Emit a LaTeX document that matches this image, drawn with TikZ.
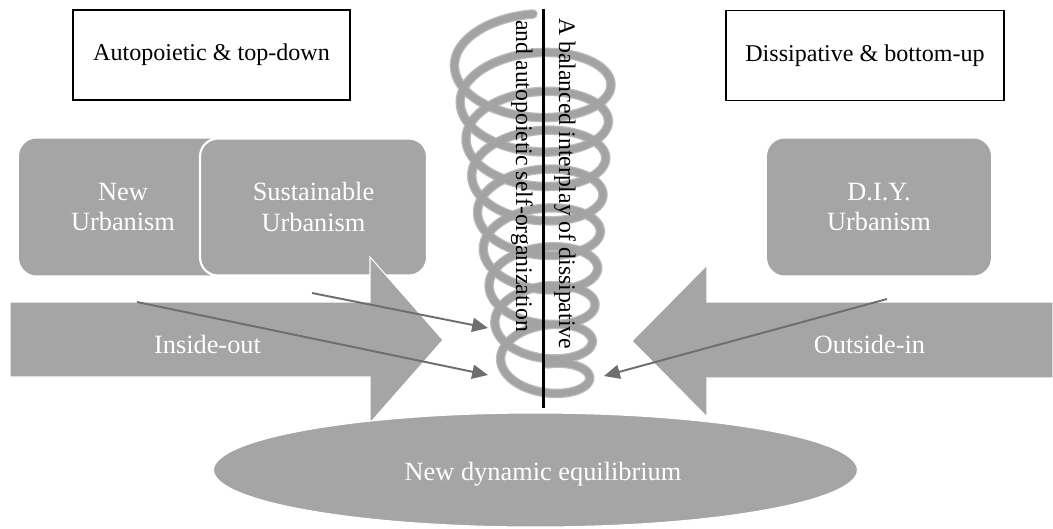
\documentclass[tikz,border=0pt]{standalone}
\usepackage{fontspec}
\setmainfont{Liberation Serif}
\usetikzlibrary{arrows.meta,shapes.geometric}
\definecolor{shapegray}{HTML}{A5A5A5}
\definecolor{conngray}{HTML}{6E6E6E}
\definecolor{coilgray}{HTML}{A3A3A3}
\definecolor{coilsoft}{HTML}{BCBCBC}
\begin{document}
\begin{tikzpicture}[x=0.02cm,y=-0.02cm,
  topbox/.style={draw=black, line width=0.9pt, fill=white, minimum height=1.8cm,
    font=\fontsize{13.7}{16}\selectfont, inner sep=0pt},
  graybox/.style={fill=shapegray, rounded corners=0.36cm, minimum height=2.74cm,
    text=white, font=\fontsize{15}{17.5}\selectfont, align=center, inner sep=0pt},
  bigarrow/.style={fill=shapegray, draw=white, line width=0.6pt},
  graylabel/.style={text=white, font=\fontsize{15}{17}\selectfont, inner sep=0pt},
  connector/.style={draw=conngray, line width=1.1pt, -{Triangle[length=9pt,width=8pt]}},
  vlabel/.style={rotate=-90, anchor=west, inner sep=0pt, font=\fontsize{13.5}{16}\selectfont},
  coilpath/.style={line cap=round, line join=round},
  declare function={cs(\t)=(\t-90)/3240;}
]
\useasboundingbox (0,0) rectangle (1053,528);

% top boxes
\node[topbox, minimum width=5.54cm] (auto) at (211.5,55) {Autopoietic \& top-down};
\node[topbox, minimum width=5.56cm] (diss) at (865,55.5) {Dissipative \& bottom-up};

% gray rounded boxes
\node[graybox, minimum width=4.16cm] (nu) at (123,207) {New\\Urbanism};
\node[graybox, minimum width=4.54cm, draw=white, line width=1.2pt] (su) at (313.5,207) {Sustainable\\Urbanism};
\node[graybox, minimum width=4.48cm] (diy) at (879,207) {D.I.Y.\\Urbanism};

% big block arrows
\path[bigarrow] (10,302) -- (370,302) -- (370,257) -- (443,340) -- (370,423) -- (370,377) -- (10,377) -- cycle;
\node[graylabel] (io) at (207.5,344) {Inside-out};
\path[bigarrow] (1053,302) -- (707,302) -- (707,265) -- (632,341) -- (707,417) -- (707,378) -- (1053,378) -- cycle;
\node[graylabel] (oi) at (869.5,344) {Outside-in};

% ellipse
\node[ellipse, fill=shapegray, draw=white, line width=0.6pt, minimum width=12.88cm,
  minimum height=2.28cm] (eq) at (535.5,470) {};
\node[graylabel] (eqlabel) at (543,474) {New dynamic equilibrium};

% coil
\draw[coilsoft, line width=5.4pt, coilpath]
  plot[domain=90:3330, samples=1300, variable=\t]
  ({533+14*cs(\t)+(80-38*cs(\t))*cos(\t)},
   {57+330*cs(\t)-(43-20*cs(\t))*sin(\t)});
\draw[coilgray, line width=4.0pt, coilpath]
  plot[domain=90:3330, samples=1300, variable=\t]
  ({533+14*cs(\t)+(80-38*cs(\t))*cos(\t)},
   {57+330*cs(\t)-(43-20*cs(\t))*sin(\t)});

% black axis
\coordinate (axtop) at (543,9);
\coordinate (axbot) at (543,408);
\draw[black, line width=1.7pt] (axtop) -- (axbot);

% vertical labels
\node[vlabel] (v1) at (565,18) {A balanced interplay of dissipative};
\node[vlabel] (v2) at (522,20) {and autopoietic self-organization};

% connectors
\coordinate (c1s) at (312,293);
\coordinate (c1e) at (488,328);
\coordinate (c2s) at (137,302);
\coordinate (c2e) at (488,375);
\coordinate (c3s) at (887,299);
\coordinate (c3e) at (604,376);
\draw[connector] (c1s) -- (c1e);
\draw[connector] (c2s) -- (c2e);
\draw[connector] (c3s) -- (c3e);
\end{tikzpicture}
\end{document}
